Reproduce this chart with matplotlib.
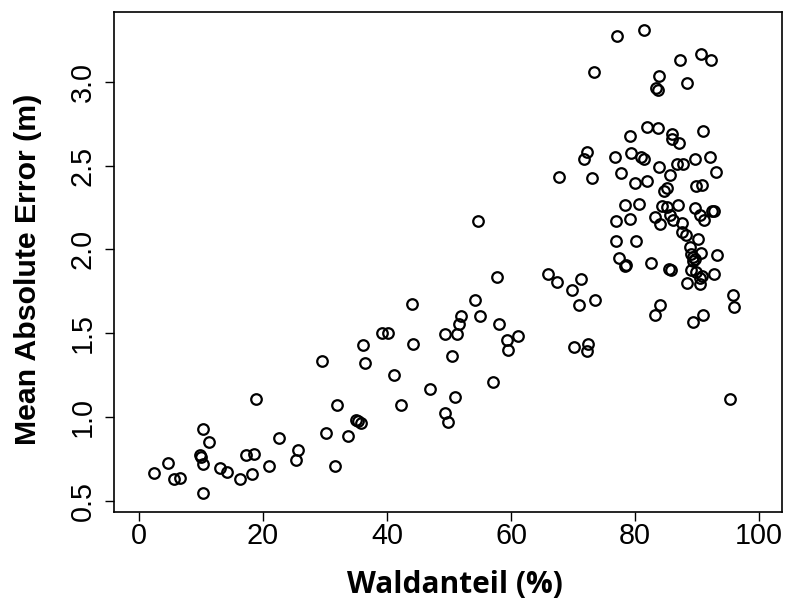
import matplotlib
matplotlib.use("Agg")
import matplotlib.pyplot as plt

# Waldanteil (%) vs. Mean Absolute Error (m)
wald_low = [2.4, 4.7, 5.7, 6.6, 9.8, 10.0, 10.3, 10.3, 10.4, 11.3, 13.0, 14.2,
            16.3, 17.2, 18.2, 18.5, 18.8, 20.9, 22.5, 25.4, 25.6, 29.5, 30.1,
            31.6, 31.9, 33.7, 35.0, 35.4, 35.8, 36.2, 36.4, 39.2, 40.2, 41.2,
            42.2, 44.1, 44.2, 47.0, 49.4, 49.4, 49.9, 50.4, 50.9, 51.3, 51.6,
            51.9, 54.2, 54.6, 55.0, 57.1, 57.8, 58.0, 59.4, 59.5, 61.1]
mae_low = [0.668, 0.728, 0.629, 0.635, 0.775, 0.765, 0.929, 0.720, 0.548, 0.851,
           0.698, 0.674, 0.629, 0.774, 0.663, 0.779, 1.109, 0.708, 0.878, 0.745,
           0.805, 1.336, 0.907, 0.708, 1.070, 0.890, 0.985, 0.975, 0.965, 1.429,
           1.320, 1.504, 1.504, 1.251, 1.070, 1.676, 1.435, 1.166, 1.498,
           1.022, 0.971, 1.362, 1.121, 1.498, 1.555, 1.603, 1.696, 2.169,
           1.603, 1.208, 1.835, 1.555, 1.459, 1.399, 1.486]

wald_high = [66.0, 67.4, 67.7, 69.9, 70.2, 71.0, 71.3, 71.8, 72.2, 72.3, 72.4,
             73.1, 73.4, 73.5, 76.7, 76.9, 77.0, 77.1, 77.4, 77.8, 78.3, 78.4,
             78.5, 79.2, 79.2, 79.4, 80.0, 80.2, 80.6, 81.0, 81.5, 81.5, 81.9,
             81.9, 82.5, 83.2, 83.2, 83.3, 83.7, 83.7, 83.9, 83.9, 84.1, 84.1,
             84.4, 84.6, 85.2, 85.2, 85.5, 85.7, 85.7, 85.8, 85.9, 86.0, 86.1,
             86.7, 87.0, 87.1, 87.2, 87.5, 87.6, 87.7, 88.2, 88.3, 88.3, 88.9,
             89.0, 89.1, 89.3, 89.4, 89.4, 89.6, 89.7, 89.7, 89.8, 89.8, 90.2,
             90.4, 90.5, 90.5, 90.6, 90.7, 90.8, 90.8, 90.9, 91.0, 91.1, 92.1,
             92.3, 92.4, 92.7, 92.7, 93.0, 93.2, 95.3, 95.8, 95.9]
mae_high = [1.853, 1.805, 2.430, 1.760, 1.417, 1.666, 1.825, 2.541, 1.394,
            2.582, 1.437, 2.424, 3.059, 1.699, 2.553, 2.048, 2.170, 3.272,
            1.951, 2.458, 2.265, 1.904, 1.910, 2.179, 2.677, 2.573, 2.395, 2.048,
            2.271, 2.553, 2.539, 3.306, 2.410, 2.730, 1.922, 2.192, 1.609, 2.964,
            2.951, 2.724, 2.493, 3.033, 2.151, 1.670, 2.260, 2.351, 2.369,
            2.256, 1.882, 2.442, 2.204, 1.878, 2.661, 2.689, 2.174, 2.509, 2.265,
            2.632, 3.128, 2.105, 2.155, 2.509, 2.084, 1.800, 2.992, 2.016, 1.972,
            1.878, 1.932, 1.952, 1.565, 2.247, 1.942, 2.539, 2.379, 1.868, 2.064,
            1.792, 2.208, 1.829, 1.981, 3.166, 2.385, 1.843, 2.707, 1.609, 2.174,
            2.553, 3.128, 2.230, 2.230, 1.856, 2.464, 1.965, 1.105, 1.727, 1.656]

wald = wald_low + wald_high
mae = mae_low + mae_high

fig = plt.figure(figsize=(7.85, 6.01), dpi=100)
# plot box in pixels: x 114..782, y 12..512
ax = fig.add_axes([114 / 785, 89 / 601, 668 / 785, 500 / 601])

ax.plot(wald, mae, linestyle='none', marker='o', markersize=7.6,
        markerfacecolor='none', markeredgecolor='black', markeredgewidth=1.6)

ax.set_xlim(-4.03, 103.7)
ax.set_ylim(0.434, 3.416)
ax.set_xticks([0, 20, 40, 60, 80, 100])
ax.set_yticks([0.5, 1.0, 1.5, 2.0, 2.5, 3.0])
ax.set_yticklabels(['0.5', '1.0', '1.5', '2.0', '2.5', '3.0'], rotation=90, va='center')

for s in ax.spines.values():
    s.set_linewidth(1.2)
ax.tick_params(length=6.5, width=1.0, labelsize=20.7)
ax.tick_params(axis='x', pad=1)
ax.tick_params(axis='y', pad=6)
for lab in ax.get_xticklabels() + ax.get_yticklabels():
    lab.set_family('Liberation Sans')

ax.set_xlabel('Waldanteil (%)', fontsize=21.5, fontweight='bold', family='Open Sans')
ax.xaxis.label.set_va('baseline')
ax.xaxis.set_label_coords(0.5105, -0.162)

ax.set_ylabel('Mean Absolute Error (m)', fontsize=21.8, fontweight='bold', family='Liberation Sans')
ax.yaxis.label.set_va('baseline')
ax.yaxis.set_label_coords(-0.1168, 0.485)

fig.savefig('out.png', dpi=100)
